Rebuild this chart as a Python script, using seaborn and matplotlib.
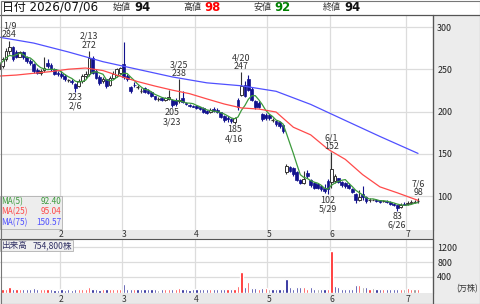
import numpy as np
import pandas as pd
import matplotlib
matplotlib.use("Agg")
import matplotlib.pyplot as plt
import matplotlib.transforms as mtransforms
from matplotlib.patches import Rectangle
import seaborn as sns

# ---------------- data ----------------
holidays = ["2026-01-12", "2026-02-11", "2026-02-23", "2026-03-20",
            "2026-04-29", "2026-05-04", "2026-05-05", "2026-05-06"]
dates = pd.bdate_range("2026-01-06", "2026-07-06", freq="C", holidays=holidays)

opens = [250, 254, 262, 272, 276, 271, 265, 270, 264, 260, 256, 249, 246, 249, 258, 255, 250, 246,
         245, 242, 237, 236, 233, 230, 236, 242, 244, 263, 248, 241, 236, 238, 231, 240, 243, 246,
         256, 242, 229, 232, 229, 224, 228, 225, 223, 218, 215, 216, 214, 215, 214, 214, 212, 216, 210, 208, 207,
         207, 205, 204, 201, 199, 203, 202, 199, 195, 193, 191, 188, 214, 220, 231, 238, 227, 212, 210, 197, 196,
         196, 190, 189, 188, 184, 128, 135, 133, 129, 119, 116, 127, 119, 116, 114, 112, 110, 118,
         117, 118, 121, 117, 116, 113, 109, 103, 96, 103, 99, 95, 96, 96, 95, 94, 94, 93, 91, 89, 87, 91,
         91, 92, 93, 94]
highs = [258, 264, 275, 284, 278, 273, 272, 272, 266, 262, 257, 252, 250, 264, 262, 258, 252, 248,
         248, 244, 239, 238, 234, 238, 244, 248, 272, 266, 250, 243, 241, 239, 242, 248, 252, 253,
         282, 244, 230, 235, 231, 228, 229, 227, 224, 219, 217, 217, 217, 226, 215, 216, 238, 224, 211, 209, 208,
         208, 206, 205, 202, 204, 205, 204, 200, 196, 195, 193, 194, 216, 247, 236, 243, 229, 214, 212, 198, 198,
         197, 192, 190, 189, 185, 138, 136, 134, 130, 120, 130, 131, 120, 117, 116, 113, 114, 120,
         152, 126, 122, 118, 117, 115, 110, 104, 107, 112, 100, 98, 97, 97, 96, 95, 95, 94, 92, 90, 92, 93,
         94, 95, 96, 98]
lows = [248, 252, 260, 268, 260, 263, 264, 262, 258, 255, 246, 244, 243, 247, 252, 248, 243, 242,
        240, 236, 235, 233, 223, 229, 234, 240, 242, 244, 238, 232, 234, 228, 230, 238, 241, 244,
        238, 236, 222, 229, 227, 222, 222, 221, 217, 214, 213, 213, 213, 214, 205, 207, 210, 210, 208, 206, 205,
        203, 202, 198, 197, 198, 200, 198, 192, 188, 188, 187, 185, 202, 218, 217, 224, 212, 203, 204, 189, 190,
        190, 188, 183, 181, 175, 126, 128, 124, 118, 114, 114, 122, 111, 109, 108, 106, 104, 102,
        110, 116, 116, 111, 110, 108, 104, 92, 94, 96, 92, 93, 95, 93, 92, 93, 92, 90, 88, 83, 86, 89,
        90, 91, 92, 92]
closes = [256, 262, 272, 276, 262, 265, 270, 264, 260, 258, 248, 246, 248, 252, 254, 250, 245, 244,
          242, 238, 237, 235, 228, 236, 242, 245, 263, 246, 240, 234, 238, 230, 240, 245, 250, 251,
          241, 238, 224, 231, 229, 224, 223, 222, 218, 215, 215, 214, 216, 217, 208, 209, 214, 211, 209, 207, 206,
          204, 203, 199, 198, 202, 201, 199, 194, 190, 191, 189, 193, 205, 230, 219, 226, 214, 205, 206, 191, 192,
          192, 190, 185, 183, 177, 136, 130, 126, 119, 116, 120, 124, 113, 110, 110, 108, 106, 108,
          132, 124, 117, 113, 112, 110, 105, 95, 99, 99, 94, 96, 96, 94, 93, 94, 93, 91, 89, 86, 90, 90,
          92, 93, 93, 94]
# volume in 万株
volumes = [60, 70, 55, 115, 70, 70, 70, 55, 70, 55, 90, 70, 55, 55, 55, 55, 35, 35,
           55, 35, 55, 35, 55, 55, 55, 70, 115, 70, 55, 35, 55, 55, 55, 55, 55, 55,
           200, 70, 55, 55, 55, 55, 55, 55, 55, 55, 35, 55, 55, 70, 70, 55, 90, 70, 55, 35, 55,
           55, 55, 55, 55, 55, 55, 55, 70, 55, 55, 55, 70, 155, 540, 130, 265, 90, 90, 70, 90, 90,
           55, 70, 70, 70, 70, 330, 115, 70, 115, 115, 115, 70, 115, 70, 70, 70, 70, 70,
           1110, 155, 115, 70, 70, 70, 70, 185, 185, 130, 130, 70, 80, 70, 70, 70, 55, 55, 55, 55, 70, 70,
           80, 55, 55, 75.48]

ma25_idx = [0, 5, 10, 15, 20, 25, 30, 35, 40, 45, 50, 55, 60, 65, 70, 75, 80, 85, 90, 95, 100, 105, 110, 115, 121]
ma25_val = [242, 243.2, 245.3, 247.3, 250.1, 251.5, 248.5, 241.8, 235.5, 230.2, 225.4, 221.2, 215,
            209, 204.3, 203, 199.5, 181.5, 172.5, 155.5, 143.5, 125.5, 111, 104, 95.04]
ma75_idx = [0, 10, 20, 30, 40, 50, 60, 70, 80, 90, 100, 110, 121]
ma75_val = [288, 281, 270.5, 259, 250, 241, 234, 230.5, 224, 208.5, 189.5, 170.6, 150.57]

high_marks = ["2026-01-09", "2026-02-13", "2026-03-25", "2026-04-20", "2026-06-01", "2026-07-06"]
low_marks = ["2026-02-06", "2026-03-23", "2026-04-16", "2026-05-29", "2026-06-26"]
price_ticks = [100, 150, 200, 250, 300]
volume_ticks = [400, 800, 1200]
last_volume_shares = "754,800株"

# ---------------- style ----------------
sns.set_style("white")
plt.rcParams["font.family"] = ["Noto Sans CJK JP", "DejaVu Sans"]
HEAD_FONT = ["DejaVu Sans", "Noto Sans CJK JP"]

W, H = 480, 304
fig = plt.figure(figsize=(W / 100, H / 100), dpi=100)
fig.patch.set_facecolor("white")


def box(x0, y0, x1, y1):
    return [x0 / W, 1 - y1 / H, (x1 - x0) / W, (y1 - y0) / H]


# right gray panel (behind the axes)
fig.patches.append(Rectangle((433 / W, 0), 1 - 433 / W, 1 - 15 / H, transform=fig.transFigure,
                             facecolor="#ececec", edgecolor="none", zorder=-5))

ax = fig.add_axes(box(0, 15, 433, 230))
axv = fig.add_axes(box(0, 240, 433, 293.3), sharex=ax)
strip1 = fig.add_axes(box(0, 230, 433, 239), sharex=ax)
strip2 = fig.add_axes(box(0, 293.3, 433, 304), sharex=ax)

n = len(closes)
x = np.arange(n)
o = np.array(opens, float)
h = np.array(highs, float)
l = np.array(lows, float)
c = np.array(closes, float)

ax.set_xlim(0.26, 125.33)
ax.set_ylim(60, 314.2)
axv.set_ylim(-52, 1400)

month_first = [i for i in range(1, n) if dates[i].month != dates[i - 1].month]
month_labels = [str(dates[i].month) for i in month_first]

grid_c = "#dcdcdc"
for a in (ax, axv):
    a.set_facecolor("white")
    for i in month_first:
        a.axvline(i - 0.5, color=grid_c, lw=0.9, zorder=0)
for p in price_ticks:
    ax.axhline(p, color=grid_c, lw=0.9, zorder=0)
for v in volume_ticks:
    axv.axhline(v, color=grid_c, lw=0.9, zorder=0)

# candlesticks
navy = "#12128e"
up = c > o
down = c < o
flat = c == o
ax.vlines(x[~down], l[~down], h[~down], color="#333333", lw=0.8, zorder=3)
ax.vlines(x[down], l[down], h[down], color=navy, lw=0.8, zorder=3)
bw = 0.8
ax.bar(x[down], (o - c)[down], bottom=c[down], width=bw, color=navy, edgecolor=navy, lw=0.5, zorder=4)
ax.bar(x[up], (c - o)[up], bottom=o[up], width=bw, color="white", edgecolor="#333333", lw=0.7, zorder=4)
ax.hlines(c[flat], x[flat] - bw / 2, x[flat] + bw / 2, color="#333333", lw=0.9, zorder=4)

# moving averages
ma5 = pd.Series(c).rolling(5, min_periods=1).mean()
sns.lineplot(x=x, y=ma5.values, ax=ax, color="#3c9a3c", lw=0.9, zorder=5)
sns.lineplot(x=ma25_idx, y=ma25_val, ax=ax, color="#ff4a4a", lw=0.9, zorder=5)
sns.lineplot(x=ma75_idx, y=ma75_val, ax=ax, color="#5050ff", lw=0.9, zorder=5)

# high / low annotations
for d in high_marks:
    i = dates.get_loc(pd.Timestamp(d))
    ax.annotate(f"{dates[i].month}/{dates[i].day}\n{highs[i]}", xy=(i, highs[i]), xytext=(0, 0.8),
                textcoords="offset points", ha="center", va="bottom", fontsize=6.4,
                color="#333333", linespacing=0.95, zorder=6)
for d in low_marks:
    i = dates.get_loc(pd.Timestamp(d))
    ax.annotate(f"{lows[i]}\n{dates[i].month}/{dates[i].day}", xy=(i, lows[i]), xytext=(0, -0.8),
                textcoords="offset points", ha="center", va="top", fontsize=6.4,
                color="#333333", linespacing=0.95, zorder=6)

# volume (bars rise from the panel floor)
prev = np.concatenate([[c[0]], c[:-1]])
vcol = np.where(c > prev, "#ff1a1a", np.where(c < prev, navy, "#8a8a8a"))
vfloor = axv.get_ylim()[0]
vol = np.array(volumes, float)
axv.bar(x, vol - vfloor, bottom=vfloor, width=0.64, color=vcol, zorder=3)

# axes cosmetics
for a, ticks in ((ax, price_ticks), (axv, volume_ticks)):
    a.yaxis.tick_right()
    a.yaxis.set_label_position("right")
    a.set_yticks(ticks)
    a.set_yticklabels([str(t) for t in ticks])
    a.tick_params(axis="y", which="both", right=True, labelright=True, left=False, labelleft=False,
                  length=0, pad=3, labelsize=6.4, labelcolor="#222222")
    a.tick_params(axis="x", length=0, labelbottom=False)
    for s in a.spines.values():
        s.set_visible(False)
    a.spines["right"].set_visible(True)
    a.spines["right"].set_color("#555555")
    a.spines["right"].set_linewidth(0.8)

for s in (strip1, strip2):
    s.set_facecolor("#e9e9e9")
    s.set_yticks([])
    s.tick_params(axis="x", length=0, labelbottom=False)
    for sp in s.spines.values():
        sp.set_visible(False)
    trans = mtransforms.blended_transform_factory(s.transData, s.transAxes)
    for i, lab in zip(month_first, month_labels):
        s.text(i, 0.45, lab, transform=trans, ha="center", va="center", fontsize=6.2, color="#333333")

ax.spines["bottom"].set_visible(True)
ax.spines["bottom"].set_color("#9a9a9a")
ax.spines["bottom"].set_linewidth(0.7)
strip1.spines["bottom"].set_visible(True)
strip1.spines["bottom"].set_color("#555555")
strip1.spines["bottom"].set_linewidth(0.8)

# MA legend box
fig.patches.append(Rectangle((0, 1 - 229 / H), 62 / W, 33 / H, transform=fig.transFigure,
                             facecolor="#ededed", edgecolor="#b0b0b0", lw=0.6, zorder=10))
leg = [("MA(5)", f"{ma5.values[-1]:.2f}", "#3c9a3c"),
       ("MA(25)", f"{ma25_val[-1]:.2f}", "#ff4a4a"),
       ("MA(75)", f"{ma75_val[-1]:.2f}", "#5050ff")]
for k, (name, val, col) in enumerate(leg):
    yy = 1 - (201.5 + k * 10.5) / H
    fig.text(1 / W, yy, name, color=col, fontsize=5.9, va="center", ha="left", zorder=11)
    fig.text(61 / W, yy, val, color=col, fontsize=5.9, va="center", ha="right", zorder=11)

# volume label box
fig.patches.append(Rectangle((0, 1 - 251 / H), 73 / W, 11 / H, transform=fig.transFigure,
                             facecolor="#f0f0f0", edgecolor="#b0b0b0", lw=0.6, zorder=10))
fig.text(1 / W, 1 - 245.5 / H, "出来高", color="#333366", fontsize=6.2, va="center", ha="left", zorder=11)
fig.text(72 / W, 1 - 245.5 / H, last_volume_shares, color="#333366", fontsize=6.2, va="center", ha="right", zorder=11)
fig.text(478 / W, 1 - 289 / H, "(万株)", color="#333333", fontsize=5.9, va="center", ha="right", zorder=11)

# header
hy = 1 - 7.5 / H
fig.text(2 / W, hy, "日付 2026/07/06", fontsize=8.6, va="center", ha="left", color="#111111",
         family=HEAD_FONT)
items = [("始値", "94", "#111111", 113), ("高値", "98", "#ff0000", 183),
         ("安値", "92", "#008000", 253), ("終値", "94", "#111111", 323)]
for lab, val, col, px in items:
    fig.text(px / W, hy, lab, fontsize=6.5, va="center", ha="left", color="#333333")
    fig.text((px + 21) / W, hy, val, fontsize=8.4, fontweight="bold", va="center", ha="left", color=col,
             family=HEAD_FONT)

# frame lines
fig.lines.append(plt.Line2D([0, 1], [1 - 14.7 / H] * 2, transform=fig.transFigure, color="#555555", lw=0.9,
                            zorder=12))
fig.lines.append(plt.Line2D([433 / W] * 2, [0, 1 - 14.7 / H], transform=fig.transFigure, color="#555555",
                            lw=0.9, zorder=12))
fig.patches.append(Rectangle((0.5 / W, 0.5 / H), 1 - 1 / W, 1 - 1 / H, transform=fig.transFigure,
                             facecolor="none", edgecolor="#777777", lw=0.8, zorder=20))

fig.savefig("out.png", dpi=100)
